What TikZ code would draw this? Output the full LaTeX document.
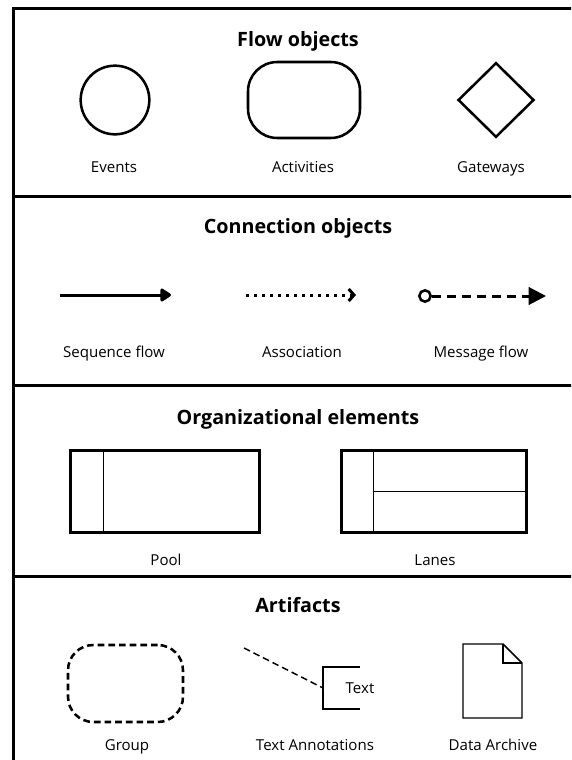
\documentclass[tikz,border=0pt]{standalone}
\usepackage{fontspec}
\setmainfont{Open Sans}
\usetikzlibrary{arrows.meta,shapes.geometric}
\begin{document}
\begin{tikzpicture}[x=0.75pt,y=-0.75pt,
  frameline/.style={line width=2.25pt},
  sectitle/.style={font=\bfseries\fontsize{14.8}{17}\selectfont, inner sep=0, anchor=base},
  lbl/.style={font=\fontsize{11.3}{13}\selectfont, inner sep=0, anchor=base},
  boldshape/.style={draw, line width=1.9pt, inner sep=0},
  thinline/.style={line width=1.1pt},
]
\clip (0,0) rectangle (571,760);
\fill[white] (0,0) rectangle (571,760);
% frame and separators
\draw[frameline] (13,8) rectangle (600,790);
\draw[frameline] (13,196) -- (600,196);
\draw[frameline] (13,385) -- (600,385);
\draw[frameline] (13,576) -- (600,576);

% ---- Flow objects
\node[sectitle] (t1) at (298,46) {Flow objects};
\node[boldshape, circle, minimum size=51.5pt] (events) at (115,100) {};
\node[boldshape, rectangle, rounded corners=22pt, minimum width=84pt, minimum height=57pt] (activities) at (304,100) {};
\node[boldshape, diamond, minimum width=57pt, minimum height=56pt] (gateways) at (496,100) {};
\node[lbl] (eventsL) at (114,172.5) {Events};
\node[lbl] (activitiesL) at (303,172.5) {Activities};
\node[lbl] (gatewaysL) at (491,172.5) {Gateways};

% ---- Connection objects
\node[sectitle] (t2) at (298,233) {Connection objects};
\coordinate (sqA) at (60,295);
\coordinate (sqB) at (171,295);
\draw[line width=2.25pt, -{Triangle[length=9pt,width=11pt,round]}] (sqA) -- (sqB);
\coordinate (asA) at (246,295);
\coordinate (asB) at (356,295);
\draw[line width=2.25pt, dash pattern=on 2.5pt off 3.5pt, -{Straight Barb[length=4pt,width=9pt]}] (asA) -- (asB);
\node[circle, draw, line width=1.9pt, minimum size=8.5pt, inner sep=0] (msgC) at (425,296) {};
\coordinate (msgB) at (546,296);
\draw[line width=2.25pt, dash pattern=on 6.75pt off 4.5pt, -{Triangle[length=13pt,width=13pt]}] (msgC) -- (msgB);
\node[lbl] (seqL) at (114,357.5) {Sequence flow};
\node[lbl] (assocL) at (302,357.5) {Association};
\node[lbl] (msgL) at (481,357.5) {Message flow};

% ---- Organizational elements
\node[sectitle] (t3) at (298,424) {Organizational elements};
\node[draw, line width=2.25pt, minimum width=141.75pt, minimum height=61.5pt, inner sep=0] (pool) at (165,491.5) {};
\draw[thinline] (pool.north west) ++(34.5,0) -- ++(0,82);
\node[draw, line width=2.25pt, minimum width=139pt, minimum height=61.5pt, inner sep=0] (lanes) at (434.25,491.5) {};
\draw[thinline] (lanes.north west) ++(33.5,0) -- ++(0,82);
\draw[thinline] (lanes.west) ++(33.5,0) -- (lanes.east);
\node[lbl] (poolL) at (166,565.5) {Pool};
\node[lbl] (lanesL) at (435,565.5) {Lanes};

% ---- Artifacts
\node[sectitle] (t4) at (298,612) {Artifacts};
\node[draw, line width=1.9pt, dash pattern=on 5pt off 3pt, rounded corners=19pt, minimum width=86.25pt, minimum height=57.75pt, inner sep=0] (group) at (125.5,683.5) {};
\coordinate (annA) at (244,648);
\coordinate (brM) at (323,688);
\coordinate (brT) at (360,667);
\coordinate (brTL) at (323,667);
\coordinate (brBL) at (323,709);
\coordinate (brB) at (360,709);
\draw[thinline] (brT) -- (brTL) -- (brBL) -- (brB);
\draw[thinline, dash pattern=on 5pt off 3pt] (annA) -- (brM);
\node[lbl] (annT) at (360,693.5) {Text};
\draw[thinline, line join=miter] (463,644) -- (503,644) -- (522,663) -- (522,718) -- (463,718) -- cycle;
\draw[thinline] (503,644) -- (503,663) -- (522,663);
\node[lbl] (groupL) at (127,750) {Group};
\node[lbl] (annL) at (315,750) {Text Annotations};
\node[lbl] (dataL) at (493,750) {Data Archive};
\end{tikzpicture}
\end{document}
